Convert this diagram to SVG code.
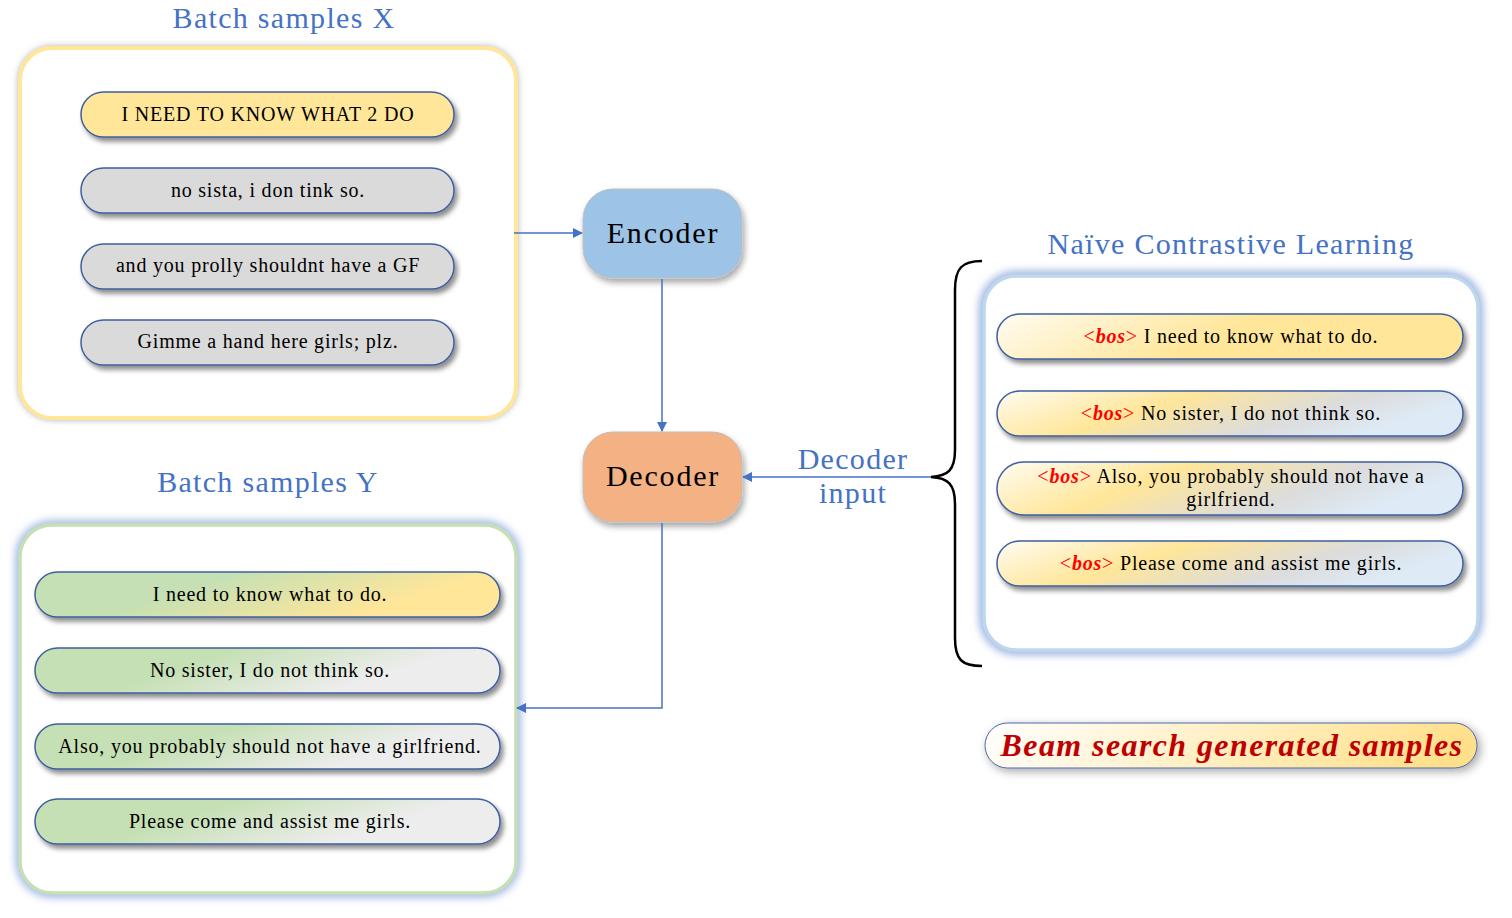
<svg xmlns="http://www.w3.org/2000/svg" width="1512" height="918" viewBox="0 0 1512 918">
<defs>
<style>
.title{font-family:"Liberation Serif","DejaVu Serif",serif;font-size:30px;letter-spacing:1.3px;fill:#4472C4;text-anchor:middle}
.pt{font-family:"Liberation Serif","DejaVu Serif",serif;font-size:20px;letter-spacing:0.8px;fill:#000;text-anchor:middle}
.bos{fill:#FF0000;font-style:italic;font-weight:bold}
.lt{fill:#FF0000}
.pill{stroke:#3F5F9E;stroke-width:1.5}
.node{font-family:"Liberation Serif","DejaVu Serif",serif;font-size:30px;letter-spacing:1.8px;fill:#000;text-anchor:middle}
.conn{stroke:#4472C4;stroke-width:1.5;fill:none}
</style>
<filter id="sh" x="-10%" y="-40%" width="120%" height="190%">
<feDropShadow dx="3" dy="4" stdDeviation="2.5" flood-color="#000" flood-opacity="0.45"/>
</filter>
<filter id="shn" x="-20%" y="-20%" width="140%" height="150%">
<feDropShadow dx="2" dy="4" stdDeviation="3" flood-color="#000" flood-opacity="0.35"/>
</filter>
<filter id="gray" x="-10%" y="-10%" width="120%" height="120%">
<feDropShadow dx="0" dy="0" stdDeviation="3" flood-color="#808080" flood-opacity="0.6"/>
</filter>
<filter id="glow" x="-10%" y="-10%" width="120%" height="120%">
<feGaussianBlur stdDeviation="4"/>
</filter>
<filter id="beam" x="-10%" y="-60%" width="120%" height="220%">
<feDropShadow dx="3" dy="3" stdDeviation="5" flood-color="#000" flood-opacity="0.35"/>
</filter>
<linearGradient id="gy1" x1="0" y1="0" x2="1" y2="0.3">
<stop offset="0.4" stop-color="#C5E0B4"/><stop offset="0.9" stop-color="#FFE699"/>
</linearGradient>
<linearGradient id="gy2" x1="0" y1="0" x2="1" y2="0.3">
<stop offset="0.4" stop-color="#C5E0B4"/><stop offset="0.85" stop-color="#EDEDED"/>
</linearGradient>
<linearGradient id="gn1" x1="0" y1="0" x2="1" y2="0.2">
<stop offset="0" stop-color="#FFFCF2"/><stop offset="0.55" stop-color="#FFE699"/><stop offset="1" stop-color="#FFE699"/>
</linearGradient>
<linearGradient id="gn2" x1="0" y1="0" x2="1" y2="0.3">
<stop offset="0" stop-color="#FFFCF2"/><stop offset="0.4" stop-color="#FFE699"/><stop offset="0.75" stop-color="#DCDCDC"/><stop offset="1" stop-color="#DEEBF7"/>
</linearGradient>
<linearGradient id="gb" x1="0" y1="0" x2="1" y2="0.1">
<stop offset="0" stop-color="#FFFFFF"/><stop offset="1" stop-color="#FFE08A"/>
</linearGradient>
<marker id="ar" markerWidth="10" markerHeight="10" refX="9" refY="5" orient="auto" markerUnits="userSpaceOnUse">
<path d="M0,0 L10,5 L0,10 Z" fill="#4472C4"/>
</marker>
</defs>
<rect width="1512" height="918" fill="#fff"/>

<g id="batchX">
<text class="title" x="284" y="28">Batch samples X</text>
<rect x="20" y="48" width="496" height="370" rx="32" fill="#fff" stroke="#FFE699" stroke-width="4" filter="url(#gray)"/>
<rect x="81" y="92" width="373" height="45" rx="22.5" fill="#FFE699" class="pill" filter="url(#sh)"/>
<text class="pt" x="268" y="121">I NEED TO KNOW WHAT 2 DO</text>
<rect x="81" y="168" width="373" height="45" rx="22.5" fill="#DADADA" class="pill" filter="url(#sh)"/>
<text class="pt" x="268" y="197">no sista, i don tink so.</text>
<rect x="81" y="244" width="373" height="45" rx="22.5" fill="#DADADA" class="pill" filter="url(#sh)"/>
<text class="pt" x="268" y="272">and you prolly shouldnt have a GF</text>
<rect x="81" y="320" width="373" height="45" rx="22.5" fill="#DADADA" class="pill" filter="url(#sh)"/>
<text class="pt" x="268" y="348">Gimme a hand here girls; plz.</text>
</g>

<g id="batchY">
<text class="title" x="268" y="492">Batch samples Y</text>
<rect x="20" y="525" width="496" height="368" rx="32" fill="none" stroke="#8FAADC" stroke-width="8" filter="url(#glow)"/>
<rect x="20" y="525" width="496" height="368" rx="32" fill="#fff" stroke="#C5E0B4" stroke-width="3.5"/>
<rect x="35" y="572" width="465" height="45" rx="22.5" fill="url(#gy1)" class="pill" filter="url(#sh)"/>
<text class="pt" x="270" y="601">I need to know what to do.</text>
<rect x="35" y="648" width="465" height="45" rx="22.5" fill="url(#gy2)" class="pill" filter="url(#sh)"/>
<text class="pt" x="270" y="677">No sister, I do not think so.</text>
<rect x="35" y="724" width="465" height="45" rx="22.5" fill="url(#gy2)" class="pill" filter="url(#sh)"/>
<text class="pt" x="270" y="753">Also, you probably should not have a girlfriend.</text>
<rect x="35" y="799" width="465" height="45" rx="22.5" fill="url(#gy2)" class="pill" filter="url(#sh)"/>
<text class="pt" x="270" y="828">Please come and assist me girls.</text>
</g>

<g id="encoder">
<rect x="583" y="189" width="159" height="89" rx="30" fill="#9DC3E6" stroke="#BFBFBF" stroke-width="1" filter="url(#shn)"/>
<text class="node" x="663" y="243">Encoder</text>
</g>

<g id="decoder">
<rect x="583" y="432" width="159" height="90" rx="30" fill="#F4B183" stroke="#BFBFBF" stroke-width="1" filter="url(#shn)"/>
<text class="node" x="663" y="486">Decoder</text>
</g>

<g id="ncl">
<text class="title" x="1231" y="254">Naïve Contrastive Learning</text>
<rect x="984" y="276" width="494" height="374" rx="32" fill="none" stroke="#8FAADC" stroke-width="9" filter="url(#glow)"/>
<rect x="984" y="276" width="494" height="374" rx="32" fill="#fff" stroke="#BDD7EE" stroke-width="3.5"/>
<rect x="997" y="314" width="466" height="45" rx="22.5" fill="url(#gn1)" class="pill" filter="url(#sh)"/>
<text class="pt" x="1231" y="343"><tspan class="lt">&lt;</tspan><tspan class="bos">bos</tspan><tspan class="lt">&gt;</tspan> I need to know what to do.</text>
<rect x="997" y="391" width="466" height="45" rx="22.5" fill="url(#gn2)" class="pill" filter="url(#sh)"/>
<text class="pt" x="1231" y="420"><tspan class="lt">&lt;</tspan><tspan class="bos">bos</tspan><tspan class="lt">&gt;</tspan> No sister, I do not think so.</text>
<rect x="997" y="462" width="466" height="53" rx="26.5" fill="url(#gn2)" class="pill" filter="url(#sh)"/>
<text class="pt" x="1231" y="483"><tspan class="lt">&lt;</tspan><tspan class="bos">bos</tspan><tspan class="lt">&gt;</tspan> Also, you probably should not have a</text>
<text class="pt" x="1231" y="506">girlfriend.</text>
<rect x="997" y="541" width="466" height="45" rx="22.5" fill="url(#gn2)" class="pill" filter="url(#sh)"/>
<text class="pt" x="1231" y="570"><tspan class="lt">&lt;</tspan><tspan class="bos">bos</tspan><tspan class="lt">&gt;</tspan> Please come and assist me girls.</text>
</g>

<g id="beamsearch">
<rect x="985" y="723" width="492" height="45" rx="22.5" fill="url(#gb)" stroke="#4A6AA8" stroke-width="1" filter="url(#beam)"/>
<text x="1232" y="756" text-anchor="middle" font-family="Liberation Serif, DejaVu Serif, serif" font-size="32" letter-spacing="1.4" font-style="italic" font-weight="bold" fill="#C00000">Beam search generated samples</text>
</g>

<g id="connectors">
<line class="conn" x1="514" y1="233" x2="582" y2="233" marker-end="url(#ar)"/>
<line class="conn" x1="662" y1="279" x2="662" y2="431" marker-end="url(#ar)"/>
<line class="conn" x1="931" y1="477" x2="743" y2="477" marker-end="url(#ar)"/>
<polyline class="conn" points="662,523 662,708 517,708" marker-end="url(#ar)"/>
<path d="M982,261 C962,261 955,268 955,290 L955,450 C955,470 948,476 931,477 C948,478 955,484 955,504 L955,638 C955,660 962,666 982,666" fill="none" stroke="#000" stroke-width="2.5"/>
<text class="title" x="853" y="469">Decoder</text>
<text class="title" x="853" y="503">input</text>
</g>
</svg>
